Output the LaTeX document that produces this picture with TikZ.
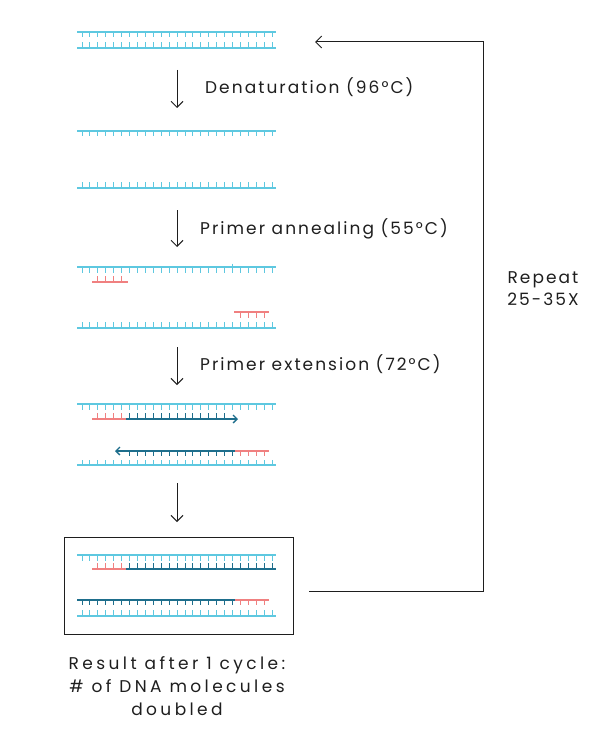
\documentclass[tikz,border=0pt]{standalone}
\usepackage{fontspec}
\setmainfont{Poppins}[LetterSpace=12.0]
\newfontfamily\widehand{Poppins}[LetterSpace=20.0]
\usetikzlibrary{arrows.meta}
\definecolor{lb}{RGB}{94,200,224}
\definecolor{pk}{RGB}{240,128,128}
\definecolor{dt}{RGB}{30,110,140}
\definecolor{ink}{RGB}{30,30,30}
\newcommand{\dnaticks}[5]{%
  \foreach \k in {#2,...,#3}{\draw[#5,tickline] ({82+7.92*\k},#1) -- ++(0,#4);}}
\begin{document}
\begin{tikzpicture}[x=1pt,y=-1pt,
  strandline/.style={line width=1.4pt},
  tickline/.style={line width=0.9pt},
  flow/.style={draw=ink,line width=1pt,-{Straight Barb[length=6pt,width=12pt]}},
  growth/.style={strandline,draw=dt,-{Straight Barb[length=4pt,width=8pt]}},
  lbl/.style={text=ink,font=\fontsize{17}{19}\selectfont,inner sep=0pt}]
\path[use as bounding box] (0,0) rectangle (610,730);

% ---- 1: double strand
\draw[lb,strandline] (77,32) -- (276,32);
\dnaticks{32}{0}{24}{5.5}{lb}
\draw[lb,strandline] (77,48) -- (276,48);
\dnaticks{48}{0}{24}{-6}{lb}

% ---- 2: denatured
\draw[lb,strandline] (77,131) -- (276,131);
\dnaticks{131}{0}{24}{5.5}{lb}
\draw[lb,strandline] (77,188) -- (276,188);
\dnaticks{188}{0}{24}{-6}{lb}

% ---- 3: primers annealed
\draw[lb,strandline] (77,267) -- (276,267);
\dnaticks{267}{0}{24}{5.5}{lb}
\draw[lb,tickline] (232.5,263.5) -- (232.5,267);
\draw[pk,strandline] (92,282) -- (128,282);
\dnaticks{282}{2}{5}{-6}{pk}
\draw[pk,strandline] (234,312) -- (269,312);
\dnaticks{312}{20}{23}{6}{pk}
\draw[lb,strandline] (77,328) -- (276,328);
\dnaticks{328}{0}{24}{-6}{lb}

% ---- 4: extension
\draw[lb,strandline] (77,404) -- (276,404);
\dnaticks{404}{0}{24}{5.5}{lb}
\draw[pk,strandline] (92,419) -- (126,419);
\dnaticks{419}{2}{5}{-6}{pk}
\coordinate (e1s) at (126,419);
\coordinate (e1e) at (238,419);
\draw[growth] (e1s) -- (e1e);
\dnaticks{419}{6}{18}{-6}{dt}
\coordinate (e2s) at (235,451);
\coordinate (e2e) at (115,451);
\draw[growth] (e2s) -- (e2e);
\dnaticks{451}{6}{19}{5}{dt}
\draw[pk,strandline] (235,451) -- (269,451);
\dnaticks{451}{20}{23}{5}{pk}
\draw[lb,strandline] (77,465) -- (276,465);
\dnaticks{465}{0}{24}{-5.5}{lb}

% ---- 5: result box
\node[draw=ink,line width=1.2pt,minimum width=229pt,minimum height=97pt,inner sep=0pt,anchor=north west] (box) at (64,537) {};
\draw[lb,strandline] (77,555) -- (276,555);
\dnaticks{555}{0}{24}{5.5}{lb}
\draw[pk,strandline] (92,569) -- (126,569);
\dnaticks{569}{2}{5}{-6}{pk}
\draw[dt,strandline] (126,569) -- (276,569);
\dnaticks{569}{6}{24}{-6}{dt}
\draw[dt,strandline] (77,600) -- (235,600);
\dnaticks{600}{0}{19}{5}{dt}
\draw[pk,strandline] (235,600) -- (269,600);
\dnaticks{600}{20}{23}{5}{pk}
\draw[lb,strandline] (77,616) -- (276,616);
\dnaticks{616}{0}{24}{-6}{lb}

% ---- step arrows
\coordinate (a1s) at (177,70);  \coordinate (a1e) at (177,108);
\coordinate (a2s) at (177,210); \coordinate (a2e) at (177,247);
\coordinate (a3s) at (177,347); \coordinate (a3e) at (177,385);
\coordinate (a4s) at (177,483); \coordinate (a4e) at (177,522);
\draw[flow] (a1s) -- (a1e);
\draw[flow] (a2s) -- (a2e);
\draw[flow] (a3s) -- (a3e);
\draw[flow] (a4s) -- (a4e);

\node[lbl,anchor=west] (den) at (205,87) {Denaturation (96°C)};
\node[lbl,anchor=west] (ann) at (200,229) {Primer annealing (55°C)};
\node[lbl,anchor=west] (ext) at (200,364) {Primer extension (72°C)};

% ---- repeat loop
\coordinate (l0) at (309,591);
\coordinate (l1) at (483,591);
\coordinate (l2) at (483,42);
\coordinate (l3) at (315,42);
\draw[flow] (l0) -- (l1) -- (l2) -- (l3);
\node[lbl,align=center] (rep) at (543,289) {Repeat\\[3pt]25-35X};

\node[lbl,align=center,font=\widehand\fontsize{17}{19}\selectfont] (res) at (177,686) {Result after 1 cycle:\\[4pt]\# of DNA molecules\\[4pt]doubled};
\end{tikzpicture}
\end{document}
